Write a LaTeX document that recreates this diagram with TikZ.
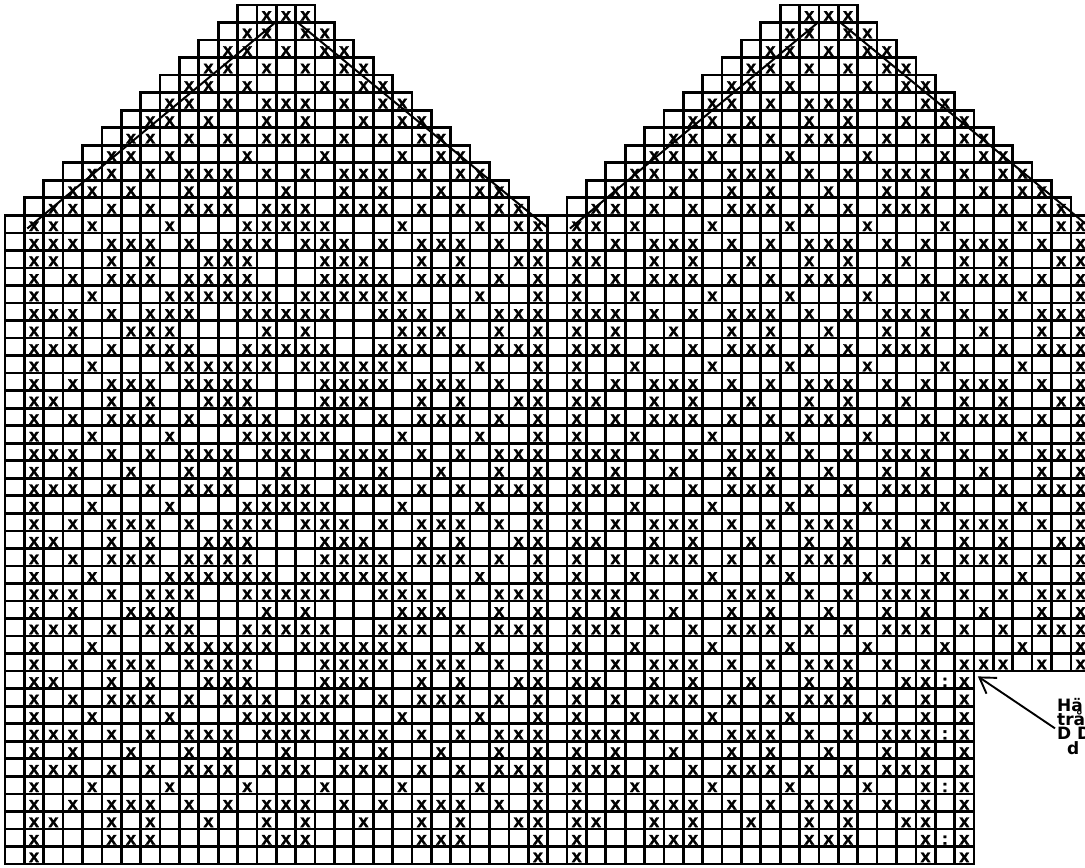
\documentclass[tikz,border=0pt]{standalone}
\usepackage{fontspec}
\setmainfont{Liberation Sans}
\newfontfamily\crossfont[FakeBold=1.6]{Liberation Sans Bold}
\newfontfamily\notefont{DejaVu Sans Bold}
\usetikzlibrary{arrows.meta}
\lineskiplimit=-20pt

% motif rows (columns that carry a cross)
\def\motifA{2,5,9,13,17,21,25,28}
\def\motifB{2,3,4,6,8,10,11,12,14,16,18,19,20,22,24,26,27,28}
\def\motifC{2,4,7,10,12,15,18,20,23,26,28}
\def\motifD{2,4,6,7,8,10,12,14,15,16,18,20,22,23,24,26,28}
\def\motifE{2,3,6,8,11,14,16,19,22,24,27,28}
\def\motifF{2,3,6,8,11,12,13,17,18,19,22,24,27,28}
\def\motifG{2,4,6,7,8,10,11,12,13,17,18,19,20,22,23,24,26,28}
\def\motifH{2,5,9,10,11,12,13,14,16,17,18,19,20,21,25,28}
\def\motifI{2,3,4,6,8,9,10,13,14,15,16,17,20,21,22,24,26,27,28}
\def\motifJ{2,4,7,8,9,14,16,21,22,23,26,28}
\def\motifK{2,4,6,7,8,10,12,13,14,16,17,18,20,22,23,24,26,28}
\def\motifM{2,5,9,13,14,15,16,17,21,25,28}
\def\motifN{2,3,4,6,8,10,11,12,14,15,16,18,19,20,22,24,26,27,28}

\newcommand\cellrow[4]{%
  \foreach \c in {#3,...,#4}
    \draw[cell] ({#1+\c-1},-#2) rectangle ++(1,1);%
}
\newcommand\crossrow[3]{%
  \edef\clist{#3}%
  \foreach \c in \clist
    \node[cross] (x#1-#2-\c) at ({#1+\c-0.5},-#2) {x};%
}

\begin{document}
\begin{tikzpicture}[
    x=19.38pt, y=17.53pt,
    cell/.style={draw, line width=2.7pt},
    cross/.style={anchor=base, yshift=1.8pt, inner sep=0pt, font=\crossfont\fontsize{18}{18}\selectfont},
    decrease/.style={line width=2pt},
    pointer/.style={line width=1.9pt, -{Straight Barb[length=15pt, width=19pt]}},
    note/.style={anchor=north west, inner sep=0pt, align=left,
      font=\notefont\fontsize{17}{14.3}\selectfont}
  ]
  \useasboundingbox (-5pt,5pt) rectangle (1080pt,-863pt);
  \clip (-5pt,5pt) rectangle (1080pt,-863pt);

  % grid of both charts
  \foreach \r in {1,...,13} {
    \pgfmathtruncatemacro\first{14-\r}
    \pgfmathtruncatemacro\last{15+\r}
    \cellrow{0}{\r}{\first}{\last}
    \cellrow{28}{\r}{\first}{\last}
  }
  \foreach \r in {14,...,49} {\cellrow{0}{\r}{1}{28}}
  \foreach \r in {14,...,38} {\cellrow{28}{\r}{1}{28}}
  \foreach \r in {39,...,49} {\cellrow{28}{\r}{1}{22}}

  % crown, same on both charts
  \foreach \r/\cols in {1/{14,15,16}, 2/{13,14,16,17}, 3/{12,13,15,17,18},
      4/{11,12,14,16,18,19}, 5/{10,11,13,17,19,20}, 6/{9,10,12,14,15,16,18,20,21},
      7/{8,9,11,14,16,19,21,22}, 8/{7,8,10,12,14,15,16,18,20,22,23},
      9/{6,7,9,13,17,21,23,24}, 10/{5,6,8,10,11,12,14,16,18,19,20,22,24,25},
      11/{4,5,7,10,12,15,18,20,23,25,26}} {
    \crossrow{0}{\r}{\cols}
    \crossrow{28}{\r}{\cols}
  }

  % left chart
  \foreach \r/\cols in {12/{3,4,6,8,10,11,12,14,15,16,18,19,20,22,24,26,27},
      13/{2,3,5,9,13,14,15,16,17,21,25,27,28},
      14/{2,3,4,6,7,8,10,12,13,14,16,17,18,20,22,23,24,26,28},
      15/\motifF, 16/\motifG, 17/\motifH, 18/\motifI, 19/\motifJ, 20/\motifI,
      21/\motifH, 22/\motifG, 23/\motifF, 24/\motifK, 25/\motifM, 26/\motifN,
      27/\motifC, 28/\motifN, 29/\motifM, 30/\motifK, 31/\motifF, 32/\motifG,
      33/\motifH, 34/\motifI, 35/\motifJ, 36/\motifI, 37/\motifH, 38/\motifG,
      39/\motifF, 40/\motifK, 41/\motifM, 42/\motifN, 43/\motifC, 44/\motifN,
      45/\motifA, 46/\motifD, 47/\motifE, 48/{2,6,7,8,14,15,16,22,23,24,28},
      49/{2,28}}
    \crossrow{0}{\r}{\cols};

  % right chart
  \foreach \r/\cols in {12/{3,4,6,8,10,11,12,14,16,18,19,20,22,24,26,27},
      13/{2,3,5,9,13,17,21,25,27,28},
      14/\motifD, 15/\motifE, 16/\motifD, 17/\motifA, 18/\motifB, 19/\motifC,
      20/\motifB, 21/\motifA, 22/\motifD, 23/\motifE, 24/\motifD, 25/\motifA,
      26/\motifB, 27/\motifC, 28/\motifB, 29/\motifA, 30/\motifD, 31/\motifE,
      32/\motifD, 33/\motifA, 34/\motifB, 35/\motifC, 36/\motifB, 37/\motifA,
      38/\motifD,
      39/{2,3,6,8,11,14,16,19,20,22}, 40/{2,4,6,7,8,10,12,14,15,16,18,20,22},
      41/{2,5,9,13,17,20,22}, 42/{2,3,4,6,8,10,11,12,14,16,18,19,20,22},
      43/{2,4,7,10,12,15,18,20,22}, 44/{2,3,4,6,8,10,11,12,14,16,18,19,20,22},
      45/{2,5,9,13,17,20,22}, 46/{2,4,6,7,8,10,12,14,15,16,18,20,22},
      47/{2,3,6,8,11,14,16,19,20,22}, 48/{2,6,7,8,14,15,16,20,22},
      49/{2,20,22}}
    \crossrow{28}{\r}{\cols};

  % thumb marks
  \foreach \r in {39,42,45,48}
    \node[cross] (gap-\r) at (48.5,-\r) {:};

  % decrease lines
  \foreach \o in {0,28} {
    \draw[decrease] (\o+1.15,-12.75) -- (\o+14,-0.95);
    \draw[decrease] (\o+15.05,-0.95) -- (\o+28,-12.7);
  }

  \node[note] (note) at (1052pt,-693pt) {Hä\\trå\\D D\\\hspace*{10pt}d};
  \coordinate (thumb) at (50.2,-38.3);
  \draw[pointer] ([shift={(-2pt,-2pt)}]note.west) -- (thumb);
\end{tikzpicture}
\end{document}
